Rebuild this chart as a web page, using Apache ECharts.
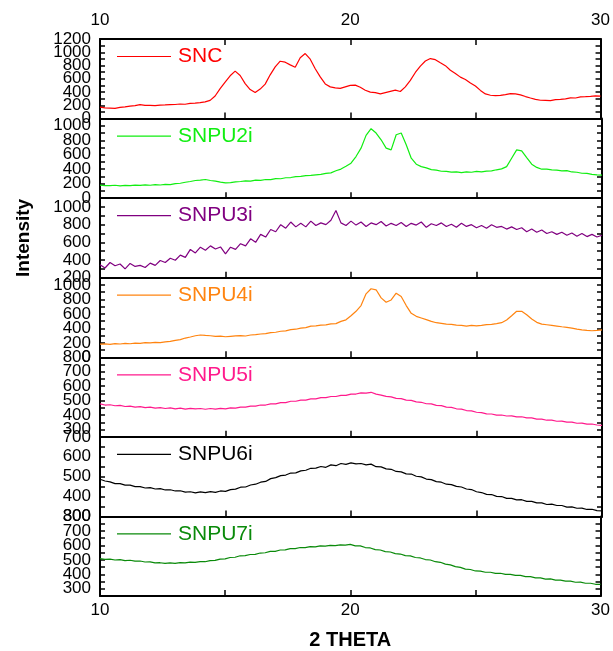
<!DOCTYPE html>
<html>
<head>
<meta charset="utf-8">
<script src="https://cdn.jsdelivr.net/npm/echarts@6/dist/echarts.min.js"></script>
<style>html,body{margin:0;padding:0;background:#fff;}#c{width:613px;height:651px;}</style>
</head>
<body>
<div id="c"></div>
<script>
// 2-theta sample positions (degrees), 0.2 deg step from 10 to 30
const theta = Array.from({length: 101}, (_, i) => +(10 + i * 0.2).toFixed(1));

const names = ['SNC', 'SNPU2i', 'SNPU3i', 'SNPU4i', 'SNPU5i', 'SNPU6i', 'SNPU7i'];

const snc = [
  172,160,158,155,168,176,188,195,210,200,
  198,195,204,206,210,212,220,216,230,232,
  240,252,275,340,452,550,645,715,650,528,
  438,392,445,520,660,780,865,850,810,775,
  918,980,895,752,628,522,478,462,455,478,
  500,505,472,428,398,392,372,392,410,428,
  408,478,575,695,792,868,905,888,842,798,
  728,680,625,590,538,492,425,372,352,345,
  350,362,375,372,358,332,310,290,276,275,
  270,285,290,298,312,310,326,330,335,342,
  338];
const snpu2i = [
  181,174,172,178,170,176,172,180,176,183,
  178,186,182,190,188,200,206,220,230,244,
  250,258,244,234,222,212,214,225,230,240,
  236,248,245,258,256,270,268,282,285,298,
  300,312,314,322,328,342,350,378,402,440,
  483,575,691,868,960,900,807,691,668,877,
  900,738,552,469,436,418,395,388,372,370,
  360,364,352,362,358,370,362,374,378,392,
  404,436,552,668,654,561,469,425,400,402,
  392,388,378,380,362,358,344,342,328,322,
  318];
const snpu3i = [
  348,310,372,335,355,300,362,328,340,315,
  365,340,395,372,420,398,455,430,520,480,
  545,510,560,525,548,470,545,520,585,560,
  640,600,690,660,745,720,800,760,830,775,
  815,775,840,790,820,800,850,960,820,790,
  840,795,830,780,820,800,835,785,815,790,
  825,780,815,795,830,770,810,790,820,780,
  805,770,815,780,800,765,790,760,800,770,
  780,750,775,745,765,720,750,715,740,700,
  720,690,715,680,705,670,700,665,690,660,
  680];
const snpu4i = [
  181,186,179,188,184,192,187,196,193,202,
  198,206,203,214,220,234,244,266,280,298,
  308,302,298,290,292,284,290,296,300,294,
  308,312,322,326,342,346,360,364,382,388,
  402,410,430,434,444,448,462,466,496,518,
  575,636,715,877,947,933,821,761,793,886,
  840,715,608,566,543,520,496,478,469,459,
  455,445,440,432,440,434,440,452,455,466,
  478,515,575,636,636,589,529,483,459,450,
  441,432,422,413,404,390,380,371,367,371,
  380];
const snpu5i = [
  478,470,472,465,468,460,463,456,459,452,
  455,448,452,446,450,444,448,442,447,443,
  446,441,446,442,447,444,450,449,456,455,
  462,462,470,470,478,478,487,487,496,496,
  504,504,513,513,521,521,529,529,537,537,
  545,546,554,552,558,545,539,530,526,516,
  514,504,502,492,489,479,478,468,466,456,
  454,444,442,432,430,420,418,409,408,400,
  401,394,395,388,389,381,381,373,373,365,
  366,358,359,352,352,344,345,338,339,332,
  330];
const snpu6i = [
  487,478,474,465,465,457,457,450,450,443,
  445,438,440,433,434,428,429,422,424,418,
  423,420,425,421,428,426,435,437,447,448,
  458,462,472,476,490,495,505,508,518,519,
  529,532,542,543,551,547,559,555,566,562,
  569,564,566,559,563,550,549,539,537,526,
  524,514,513,502,499,488,485,475,472,462,
  460,451,448,438,435,424,420,411,410,401,
  400,391,391,383,384,376,376,368,368,360,
  362,355,355,347,348,341,342,335,336,329,
  328];
const snpu7i = [
  508,503,505,499,501,495,497,491,492,485,
  486,479,480,475,479,476,481,479,484,482,
  488,487,495,496,505,507,516,518,528,529,
  537,538,547,549,558,559,568,569,578,578,
  585,584,591,590,597,595,600,598,604,602,
  607,596,596,585,582,571,568,557,554,543,
  540,529,527,516,513,502,499,487,483,470,
  465,453,448,436,433,423,422,414,414,406,
  407,399,400,392,392,384,384,375,375,367,
  368,360,360,353,353,345,346,338,338,331,
  330];

const seriesValues = [snc, snpu2i, snpu3i, snpu4i, snpu5i, snpu6i, snpu7i];

// y-axis ranges per panel: min, max, tick step, label step
const yMin = [0, 0, 200, 0, 250, 300, 250];
const yMax = [1200, 1100, 1100, 1100, 800, 700, 800];
const yTick = [100, 100, 100, 100, 50, 50, 50];
const yLabelStep = [200, 200, 200, 200, 100, 100, 100];

// x-axis
const xMin = 10, xMax = 30, xTick = 5, xLabelStep = 10;

const colors = ['#ff0000', '#11ee11', '#800080', '#ff8410', '#ff1a8c', '#000000', '#0a8a0a'];

const FONT = '"Liberation Sans", Arial, sans-serif';
const chart = echarts.init(document.getElementById('c'), null, {renderer: 'canvas'});

const plotTop = 39, plotBottom = 596, plotLeft = 100, plotRight = 602;
const n = names.length;
const h = (plotBottom - plotTop) / n;

const grid = [], xAxis = [], yAxis = [], series = [], legend = [];
const lineSt = {color: '#000', width: 2};
const tickSt = {color: '#000', width: 1.5};

for (let i = 0; i < n; i++) {
  const top = plotTop + i * h;
  grid.push({left: plotLeft, width: plotRight - plotLeft, top: top, height: h, containLabel: false});
  // bottom x axis
  xAxis.push({
    type: 'value', gridIndex: i, position: 'bottom', min: xMin, max: xMax, interval: xTick,
    axisLine: {show: true, lineStyle: lineSt, onZero: false},
    axisTick: {show: true, inside: true, length: 6, lineStyle: tickSt},
    axisLabel: {show: i === n - 1, fontSize: 17, color: '#000', fontFamily: FONT, margin: 6,
      formatter: v => (v % xLabelStep === 0 ? String(v) : '')},
    splitLine: {show: false},
    name: i === n - 1 ? '2 THETA' : '', nameLocation: 'middle', nameGap: 34,
    nameTextStyle: {fontSize: 20, fontWeight: 'bold', color: '#000', fontFamily: FONT}
  });
  // left y
  yAxis.push({
    type: 'value', gridIndex: i, position: 'left', min: yMin[i], max: yMax[i], interval: yTick[i],
    axisLine: {show: true, lineStyle: lineSt, onZero: false},
    axisTick: {show: true, inside: true, length: 5, lineStyle: tickSt},
    axisLabel: {show: true, fontSize: 17, color: '#000', fontFamily: FONT, margin: 9,
      formatter: v => (v % yLabelStep[i] === 0 ? String(v) : '')},
    splitLine: {show: false},
    name: i === 2 ? 'Intensity' : '', nameLocation: 'middle', nameGap: 67, nameRotate: 90,
    nameTextStyle: {fontSize: 19, fontWeight: 'bold', color: '#000', fontFamily: FONT}
  });
  series.push({
    name: names[i], type: 'line', xAxisIndex: i, yAxisIndex: i,
    data: theta.map((t, k) => [t, seriesValues[i][k]]),
    showSymbol: false, symbol: 'none', lineStyle: {width: 1.2, color: colors[i]},
    itemStyle: {color: colors[i]}, animation: false
  });
  legend.push({
    data: [names[i]], left: 112, top: top + 2, icon: 'rect', itemWidth: 54, itemHeight: 1.2,
    selectedMode: false,
    textStyle: {fontSize: 21, color: colors[i], fontFamily: FONT, padding: [0, 0, 0, 2]}
  });
}
// right y axes
for (let i = 0; i < n; i++) {
  yAxis.push({
    type: 'value', gridIndex: i, position: 'right', min: yMin[i], max: yMax[i], interval: yTick[i],
    axisLine: {show: true, lineStyle: lineSt, onZero: false},
    axisTick: {show: true, inside: true, length: 5, lineStyle: tickSt},
    axisLabel: {show: false}, splitLine: {show: false}
  });
}
// top x axis of first panel
xAxis.push({
  type: 'value', gridIndex: 0, position: 'top', min: xMin, max: xMax, interval: xTick,
  axisLine: {show: true, lineStyle: lineSt, onZero: false},
  axisTick: {show: true, inside: true, length: 6, lineStyle: tickSt},
  axisLabel: {show: true, fontSize: 17, color: '#000', fontFamily: FONT, margin: 10,
    formatter: v => (v % xLabelStep === 0 ? String(v) : '')},
  splitLine: {show: false}
});

chart.setOption({
  animation: false,
  backgroundColor: '#fff',
  grid, xAxis, yAxis, series, legend
});
</script>
</body>
</html>
